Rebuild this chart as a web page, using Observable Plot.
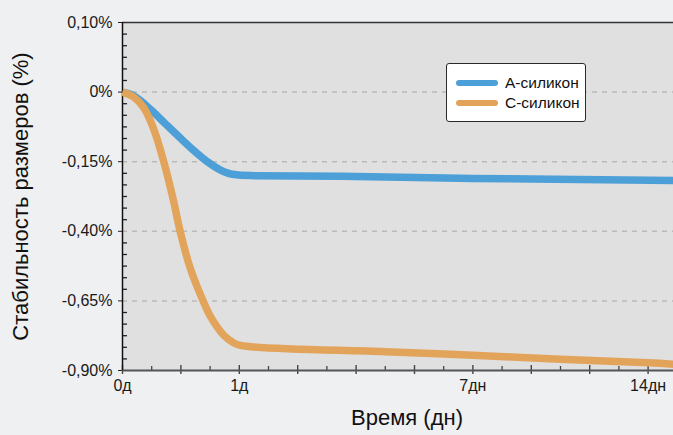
<!DOCTYPE html>
<html>
<head>
<meta charset="utf-8">
<script src="https://cdn.jsdelivr.net/npm/d3@7"></script>
<script src="https://cdn.jsdelivr.net/npm/@observablehq/plot@0.6"></script>
<style>
  html, body { margin: 0; padding: 0; background: #eff0f2; }
  #wrap { position: relative; width: 673px; height: 435px; overflow: hidden; font-family: "Liberation Sans", Arial, sans-serif; }
  #legend { position: absolute; left: 446px; top: 63px; width: 140px; height: 59px; box-sizing: border-box;
            border: 1.3px solid #2a2a2a; border-radius: 3px; background: #fff; }
  .sw { position: absolute; left: 9px; width: 42px; height: 6px; border-radius: 3px; }
  .lt { position: absolute; left: 58px; font-family: "Liberation Sans", Arial, sans-serif; font-size: 15.5px; color: #111; line-height: 18px; white-space: nowrap; }
</style>
</head>
<body>
<div id="wrap"></div>
<script>
// Axis positions are in "tick units" (one major tick = 1 unit)
const xTickPos = [0, 2, 6, 9];
const xTickLabels = ["0д", "1д", "7дн", "14дн"];
const xMajor = [0, 1, 2, 3, 4, 5, 6, 7, 8, 9];
const xMinor = [0.5, 1.5, 2.5, 3.5, 4.5, 5.5, 6.5, 7.5, 8.5];

const yTickPos = [1, 0, -1, -2, -3, -4];
const yTickLabels = ["0,10%", "0%", "-0,15%", "-0,40%", "-0,65%", "-0,90%"];
const yGrid = [0, -1, -2, -3];

const seriesNames = ["А-силикон", "С-силикон"];
const seriesColors = ["#4d9fd7", "#e2a45b"];

// А-силикон
const aX = [0, 0.17, 0.34, 0.51, 0.74, 0.99, 1.25, 1.47, 1.68, 1.88, 2.19, 3.73, 5.99, 9.43];
const aY = [0, -0.043, -0.144, -0.273, -0.46, -0.66, -0.86, -1.01, -1.12, -1.18, -1.20, -1.21, -1.24, -1.27];
// С-силикон
const cX = [0, 0.19, 0.36, 0.53, 0.70, 0.87, 0.99, 1.16, 1.39, 1.51, 1.73, 1.88, 2.02, 4.5, 6.0, 7.5, 9.0, 9.43];
const cY = [0, -0.07, -0.22, -0.52, -0.98, -1.55, -2.01, -2.53, -3.02, -3.23, -3.49, -3.59, -3.64, -3.73, -3.78, -3.84, -3.89, -3.91];

const yMinor = d3.range(-24, 7).map(i => i / 6).filter(v => Math.abs(v - Math.round(v)) > 1e-6);

const dataA = aX.map((x, i) => ({x, y: aY[i], s: seriesNames[0]}));
const dataC = cX.map((x, i) => ({x, y: cY[i], s: seriesNames[1]}));

const W = 673, H = 435, ML = 122, MT = 22, MB = 65, MR = 0;
const FW = W - ML - MR, FH = H - MT - MB;

const chart = Plot.plot({
  width: W,
  height: H,
  marginLeft: ML,
  marginTop: MT,
  marginBottom: MB,
  marginRight: MR,
  style: {background: "transparent", fontFamily: "'Liberation Sans', Arial, sans-serif", fontSize: "16px", color: "#1a1a1a", overflow: "visible"},
  x: {domain: [0, FW / 58.4], label: null},
  y: {domain: [-4, 1], label: null},
  marks: [
    Plot.frame({fill: "#e0e0e0", stroke: null}),
    Plot.ruleY(yGrid, {stroke: "#b9b9b9", strokeWidth: 1.5, strokeDasharray: "5,5"}),
    Plot.ruleY([1], {stroke: "#333", strokeWidth: 1.5}),
    Plot.ruleY(yMinor, {y: d => d, insetRight: FW - 5, stroke: "#222", strokeWidth: 1.3}),
    Plot.ruleX(xMinor, {x: d => d, insetTop: FH - 4, stroke: "#444", strokeWidth: 1.3}),
    Plot.ruleX(xMajor, {x: d => d, insetTop: FH - 5, insetBottom: -4, stroke: "#444", strokeWidth: 1.4}),
    Plot.axisY({ticks: yTickPos, tickFormat: (d) => yTickLabels[yTickPos.indexOf(d)], tickSize: 4, tickPadding: 6, stroke: "#222", fontSize: 16, label: null}),
    Plot.axisX({ticks: xTickPos, tickFormat: (d) => xTickLabels[xTickPos.indexOf(d)], tickSize: 0, tickPadding: 9, fontSize: 16, label: null}),
    Plot.ruleY([-4], {stroke: "#555", strokeWidth: 2}),
    Plot.ruleX([0], {stroke: "#111", strokeWidth: 1.5}),
    Plot.line(dataA, {x: "x", y: "y", stroke: seriesColors[0], strokeWidth: 7.5, curve: "monotone-x", strokeLinecap: "butt"}),
    Plot.line(dataC, {x: "x", y: "y", stroke: seriesColors[1], strokeWidth: 7.5, curve: "catmull-rom", strokeLinecap: "butt"}),
    Plot.text(["Стабильность размеров (%)"], {frameAnchor: "left", textAnchor: "middle", rotate: -90, dx: -102, fontSize: 22, fill: "#111"}),
    Plot.text(["Время (дн)"], {frameAnchor: "bottom", textAnchor: "middle", dy: 54, dx: 9, fontSize: 22, fill: "#111"})
  ]
});

const wrap = document.getElementById("wrap");
wrap.appendChild(chart);

const legend = document.createElement("div");
legend.id = "legend";
seriesNames.forEach((name, i) => {
  const sw = document.createElement("div");
  sw.className = "sw";
  sw.style.top = (16 + i * 20) + "px";
  sw.style.background = seriesColors[i];
  const lt = document.createElement("div");
  lt.className = "lt";
  lt.style.top = (10 + i * 20) + "px";
  lt.textContent = name;
  legend.appendChild(sw);
  legend.appendChild(lt);
});
wrap.appendChild(legend);
</script>
</body>
</html>
